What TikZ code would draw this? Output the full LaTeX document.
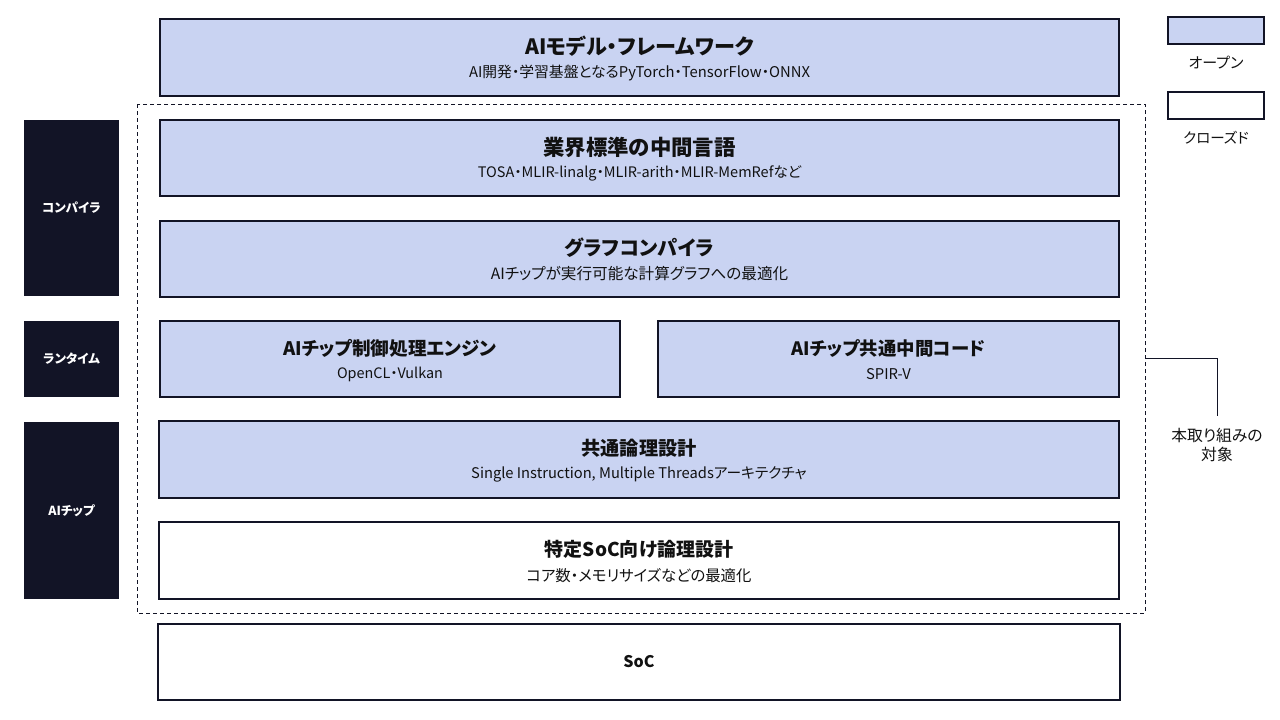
\documentclass[tikz,border=0pt]{standalone}
\usepackage{fontspec}
\setmainfont{Noto Sans CJK JP}[RawFeature=+palt]
\usepackage{xcolor}
\usepackage{tikz}
\usetikzlibrary{positioning,calc}

\definecolor{openblue}{HTML}{C9D3F2}
\definecolor{navy}{HTML}{121426}
\definecolor{ink}{HTML}{111111}

\tikzset{
    layer/.style={draw=navy, line width=1.2pt, fill=openblue, inner sep=0pt},
    closedlayer/.style={layer, fill=white},
    sidelabel/.style={fill=navy, text=white, font=\fontsize{12.5}{14}\selectfont\bfseries, inner sep=0pt},
    ttl/.style={text=ink, font=\fontsize{#1}{22}\selectfont\bfseries},
    ttl/.default=20.5,
    sub/.style={text=ink, font=\fontsize{14.8}{16}\selectfont},
    legendtxt/.style={text=ink, font=\fontsize{#1}{15}\selectfont},
    legendtxt/.default=14.5
}

\begin{document}
\begin{tikzpicture}[x=1pt, y=-1pt]
    \useasboundingbox (0,0) rectangle (1280,720);

    % Layers
    \node[layer, minimum width=959, minimum height=77] (fw) at (639.5,57.5) {};
    \node[layer, minimum width=959, minimum height=76] (ir) at (639.5,158) {};
    \node[layer, minimum width=959, minimum height=76] (gc) at (639.5,259) {};
    \node[layer, minimum width=460, minimum height=76] (eng) at (390,359) {};
    \node[layer, minimum width=461, minimum height=76] (spirv) at (888.5,359) {};
    \node[layer, minimum width=960, minimum height=77] (simt) at (639,459.5) {};
    \node[closedlayer, minimum width=960, minimum height=77] (soclogic) at (639,560.5) {};
    \node[closedlayer, minimum width=962, minimum height=76] (soc) at (639,662) {};

    % Titles and descriptions
    \node[ttl=21.1] at ([yshift=11]fw.center) {AIモデル・フレームワーク};
    \node[sub] at ([yshift=-15]fw.center) {AI開発・学習基盤となるPyTorch・TensorFlow・ONNX};
    \node[ttl=21.4] at ([yshift=11]ir.center) {業界標準の中間言語};
    \node[sub, font=\fontsize{14.5}{16}\selectfont] at ([yshift=-15]ir.center) {TOSA・MLIR-linalg・MLIR-arith・MLIR-MemRefなど};
    \node[ttl=20.1] at ([yshift=11]gc.center) {グラフコンパイラ};
    \node[sub, font=\fontsize{15.6}{17}\selectfont] at ([yshift=-15]gc.center) {AIチップが実行可能な計算グラフへの最適化};
    \node[ttl=18.6] at ([yshift=11]eng.center) {AIチップ制御処理エンジン};
    \node[sub, font=\fontsize{14.4}{16}\selectfont] at ([yshift=-15]eng.center) {OpenCL・Vulkan};
    \node[ttl=18.4] at ([yshift=11]spirv.center) {AIチップ共通中間コード};
    \node[sub] at ([yshift=-15]spirv.center) {SPIR-V};
    \node[ttl=19.2] at ([yshift=11]simt.center) {共通論理設計};
    \node[sub, font=\fontsize{14.7}{16}\selectfont] at ([yshift=-15]simt.center) {Single Instruction, Multiple Threadsアーキテクチャ};
    \node[ttl=19] at ([yshift=11]soclogic.center) {特定SoC向け論理設計};
    \node[sub, font=\fontsize{15.4}{17}\selectfont] at ([yshift=-15]soclogic.center) {コア数・メモリサイズなどの最適化};
    \node[ttl=16] at (soc.center) {SoC};

    % Side labels
    \node[sidelabel, minimum width=95, minimum height=176] (compiler) at (71.5,208) {コンパイラ};
    \node[sidelabel, minimum width=95, minimum height=76] (runtime) at (71.5,359) {ランタイム};
    \node[sidelabel, minimum width=95, minimum height=177] (chip) at (71.5,510.5) {AIチップ};

    % Scope of this work
    \draw[navy, dash pattern=on 4pt off 3pt, line width=0.8pt] (137,104) rectangle (1145,613);
    \coordinate (scope) at (1145,358);
    \node[legendtxt, font=\fontsize{15.8}{19}\selectfont, align=center, anchor=north] (target) at (1217,425) {本取り組みの\\対象};
    \draw[navy, line width=0.8pt] (scope) -- (1217,358) -- ([yshift=9]target.north);

    % Legend
    \node[layer, minimum width=96, minimum height=27] (open) at (1216,30.5) {};
    \node[legendtxt=15, below=8pt of open] {オープン};
    \node[closedlayer, minimum width=96, minimum height=27] (closed) at (1216,105.5) {};
    \node[legendtxt, below=8pt of closed] {クローズド};
\end{tikzpicture}
\end{document}
